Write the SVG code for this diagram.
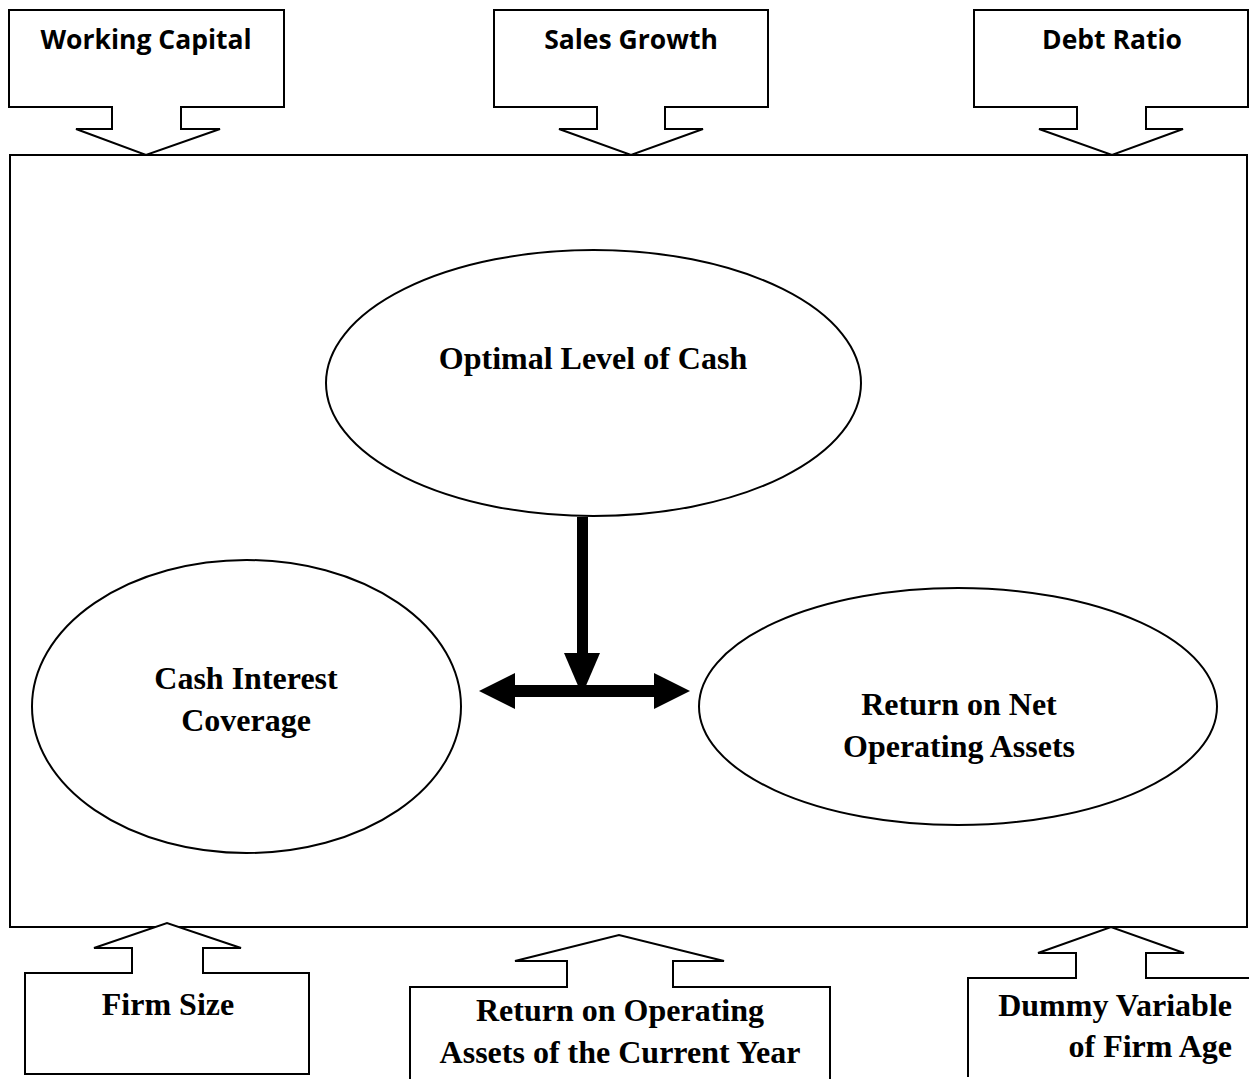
<svg xmlns="http://www.w3.org/2000/svg" width="1249" height="1079" viewBox="0 0 1249 1079">
<style>
.o{fill:#fff;stroke:#000;stroke-width:2;stroke-linejoin:miter}
.ts{font-family:"Open Sans","Noto Sans",sans-serif;font-weight:bold;font-size:26.5px;fill:#000;text-anchor:middle}
.tt{font-family:"Liberation Serif","Times New Roman",serif;font-weight:bold;font-size:32px;fill:#000;text-anchor:middle}
.te{text-anchor:end}
</style>
<rect width="1249" height="1079" fill="#fff"/>
<g id="frame"><rect class="o" x="10" y="155" width="1237" height="772"/></g>
<g id="working-capital">
<path class="o" d="M9,10 H284 V107 H181 V129 H220 L146,155 L76,129 H112 V107 H9 Z"/>
<text class="ts" x="146" y="49">Working Capital</text>
</g>
<g id="sales-growth">
<path class="o" d="M494,10 H768 V107 H665 V129 H703 L631,155 L559,129 H597 V107 H494 Z"/>
<text class="ts" x="631" y="49">Sales Growth</text>
</g>
<g id="debt-ratio">
<path class="o" d="M974,10 H1248 V107 H1146 V129 H1183 L1112,155 L1039,129 H1077 V107 H974 Z"/>
<text class="ts" x="1112" y="49">Debt Ratio</text>
</g>
<g id="firm-size">
<path class="o" d="M25,1074 H309 V973 H203 V948 H241 L167,923 L94,948 H132 V973 H25 Z"/>
<text class="tt" x="168" y="1015">Firm Size</text>
</g>
<g id="return-operating-assets">
<path class="o" d="M410,1080 V987 H567 V961 H515 L619,935 L724,961 H673 V987 H830 V1080"/>
<text class="tt" x="620" y="1021">Return on Operating</text>
<text class="tt" x="620" y="1063">Assets of the Current Year</text>
</g>
<g id="dummy-firm-age">
<path class="o" d="M968,1077 V978 H1076 V953 H1038 L1111,927 L1184,953 H1146 V978 H1250"/>
<text class="tt te" x="1232" y="1016">Dummy Variable</text>
<text class="tt te" x="1232" y="1057">of Firm Age</text>
</g>
<g id="optimal-cash">
<ellipse class="o" cx="593.5" cy="383" rx="267.5" ry="133"/>
<text class="tt" x="593" y="369">Optimal Level of Cash</text>
</g>
<g id="cash-interest-coverage">
<ellipse class="o" cx="246.5" cy="706.5" rx="214.5" ry="146.5"/>
<text class="tt" x="246" y="689">Cash Interest</text>
<text class="tt" x="246" y="731">Coverage</text>
</g>
<g id="return-net-operating-assets">
<ellipse class="o" cx="958" cy="706.5" rx="259" ry="118.5"/>
<text class="tt" x="959" y="715">Return on Net</text>
<text class="tt" x="959" y="757">Operating Assets</text>
</g>
<g id="connectors" fill="#000">
<rect x="577" y="517" width="11" height="137"/>
<polygon points="564,653 600,653 582,695"/>
<rect x="514" y="685" width="141" height="12"/>
<polygon points="479,691 515,673 515,709"/>
<polygon points="690,691 654,673 654,709"/>
</g>
</svg>
